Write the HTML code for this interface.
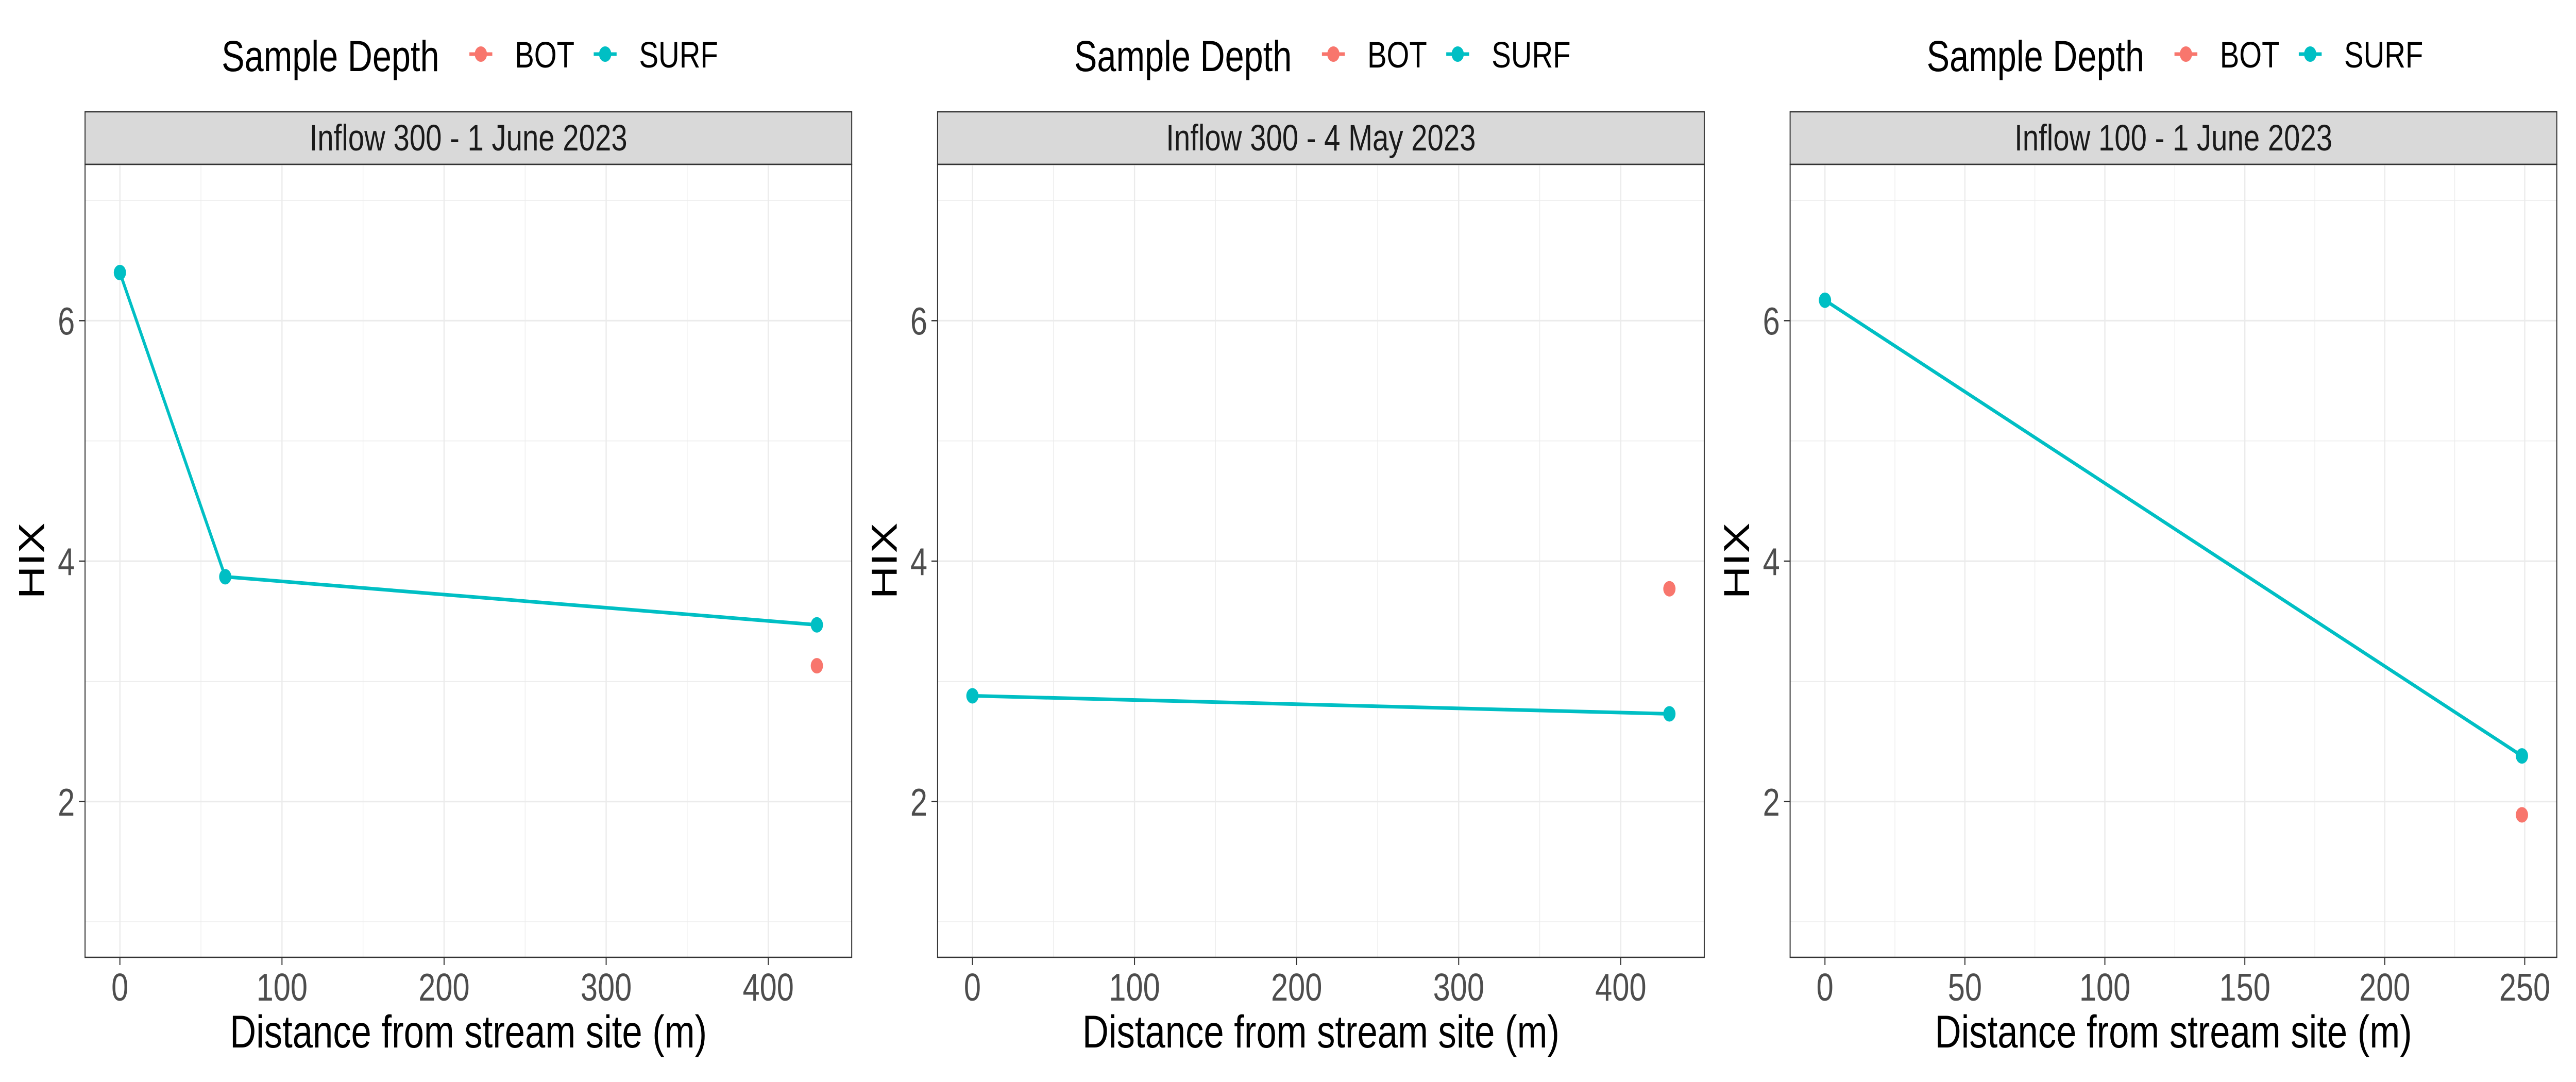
<!DOCTYPE html>
<html><head><meta charset="utf-8"><style>
html,body{margin:0;padding:0;background:#fff;width:100%;height:100%;overflow:hidden}
svg{display:block;font-family:"Liberation Sans",Arial,sans-serif;width:100vw;height:100vh}
</style></head><body>
<svg id="chart" viewBox="0 0 6300 2100" preserveAspectRatio="none" xmlns="http://www.w3.org/2000/svg"></svg>
<script>
const panelTitles = ["Inflow 300 - 1 June 2023", "Inflow 300 - 4 May 2023", "Inflow 100 - 1 June 2023"];
const surfX = [[0, 65, 430], [0, 430], [0, 249]];
const surfY = [[6.40, 3.87, 3.47], [2.88, 2.73], [6.17, 2.38]];
const botX = [[430], [430], [249]];
const botY = [[3.13], [3.77], [1.89]];
const xMax = [430, 430, 249];
const xTicks = [[0, 100, 200, 300, 400], [0, 100, 200, 300, 400], [0, 50, 100, 150, 200, 250]];
const xMinor = [[50, 150, 250, 350], [50, 150, 250, 350], [25, 75, 125, 175, 225]];
const yTicks = [2, 4, 6];
const yMinor = [1, 3, 5, 7];
const yDomain = [0.705, 7.30];

const svgEl = document.getElementById('chart');
const NS = 'http://www.w3.org/2000/svg';
function mk(tag, attrs, parent, text) {
  const e = document.createElementNS(NS, tag);
  for (const k in attrs) e.setAttribute(k, attrs[k]);
  if (text !== undefined) e.textContent = text;
  parent.appendChild(e);
  return e;
}
const panelLeft = [208, 2293, 4378];
const panelW = 1875;
const plotTop = 319, plotBottom = 1858, STRIP_TOP = 217;
const TEAL = '#00BFC4', RED = '#F8766D';

function yScale(v) { return plotBottom - (v - yDomain[0]) / (yDomain[1] - yDomain[0]) * (plotBottom - plotTop); }

for (let p = 0; p < 3; p++) {
  const L = panelLeft[p], R = L + panelW;
  const pad = xMax[p] * 0.05;
  const xScale = v => L + (v + pad) / (xMax[p] + 2 * pad) * panelW;
  const g = mk('g', {}, svgEl);
  
  

  const lg = mk('g', {}, g);
  
  
  const lx = L + 334;
  const lt = mk('text', {x: lx, y: 138, 'font-size': 84, fill: '#000'}, lg, 'Sample Depth');
  
  
  const entries = [['BOT', RED, lx + 634], ['SURF', TEAL, lx + 938]];
  for (const [lab, col, cx] of entries) {
    const eg = mk('g', {}, lg);
    
    
    mk('line', {x1: cx - 28, x2: cx + 28, y1: 105, y2: 105, stroke: col, 'stroke-width': 7}, eg);
    mk('circle', {cx: cx, cy: 105, r: 15, fill: col}, eg);
    mk('text', {x: cx + 83, y: 131, 'font-size': 71, fill: '#000'}, eg, lab);
  }

  const st = mk('rect', {x: L, y: STRIP_TOP, width: panelW, height: plotTop - STRIP_TOP, fill: '#d9d9d9', stroke: '#333', 'stroke-width': 2.5}, g);
  
  
  const stt = mk('text', {x: L + panelW / 2, y: 292, 'font-size': 71, fill: '#1a1a1a', 'text-anchor': 'middle'}, g, panelTitles[p]);
  
  

  const grid = mk('g', {}, g);
  
  
  for (const v of yMinor) mk('line', {x1: L, x2: R, y1: yScale(v), y2: yScale(v), stroke: '#ebebeb', 'stroke-width': 1.5}, grid);
  for (const v of xMinor[p]) mk('line', {x1: xScale(v), x2: xScale(v), y1: plotTop, y2: plotBottom, stroke: '#ebebeb', 'stroke-width': 1.5}, grid);
  for (const v of yTicks) mk('line', {x1: L, x2: R, y1: yScale(v), y2: yScale(v), stroke: '#ebebeb', 'stroke-width': 3}, grid);
  for (const v of xTicks[p]) mk('line', {x1: xScale(v), x2: xScale(v), y1: plotTop, y2: plotBottom, stroke: '#ebebeb', 'stroke-width': 3}, grid);

  const pts = surfX[p].map((x, i) => xScale(x) + ',' + yScale(surfY[p][i])).join(' ');
  const pl = mk('polyline', {points: pts, fill: 'none', stroke: TEAL, 'stroke-width': 7, 'stroke-linejoin': 'round'}, g);
  
  
  surfX[p].forEach((x, i) => {
    const c = mk('circle', {cx: xScale(x), cy: yScale(surfY[p][i]), r: 15, fill: TEAL}, g);
    
    
  });
  botX[p].forEach((x, i) => {
    const c = mk('circle', {cx: xScale(x), cy: yScale(botY[p][i]), r: 15, fill: RED}, g);
    
    
  });

  const bd = mk('rect', {x: L, y: plotTop, width: panelW, height: plotBottom - plotTop, fill: 'none', stroke: '#333', 'stroke-width': 2.5}, g);
  
  

  const ax = mk('g', {}, g);
  
  
  for (const v of xTicks[p]) {
    mk('line', {x1: xScale(v), x2: xScale(v), y1: plotBottom, y2: plotBottom + 15, stroke: '#333', 'stroke-width': 2.5}, ax);
    mk('text', {x: xScale(v), y: 1942, 'font-size': 75, fill: '#4d4d4d', 'text-anchor': 'middle'}, ax, String(v));
  }
  const ay = mk('g', {}, g);
  
  
  for (const v of yTicks) {
    mk('line', {x1: L - 15, x2: L, y1: yScale(v), y2: yScale(v), stroke: '#333', 'stroke-width': 2.5}, ay);
    mk('text', {x: L - 25, y: yScale(v) + 27, 'font-size': 75, fill: '#4d4d4d', 'text-anchor': 'end'}, ay, String(v));
  }
  const xt = mk('text', {x: L + panelW / 2, y: 2033, 'font-size': 89, fill: '#000', 'text-anchor': 'middle'}, g, 'Distance from stream site (m)');
  
  
  const yt = mk('text', {x: 0, y: 0, 'font-size': 89, fill: '#000', 'text-anchor': 'middle', transform: 'translate(' + (L - 100) + ',' + ((plotTop + plotBottom) / 2) + ') rotate(-90)'}, g, 'HIX');
  
  
}
</script>
</body></html>
